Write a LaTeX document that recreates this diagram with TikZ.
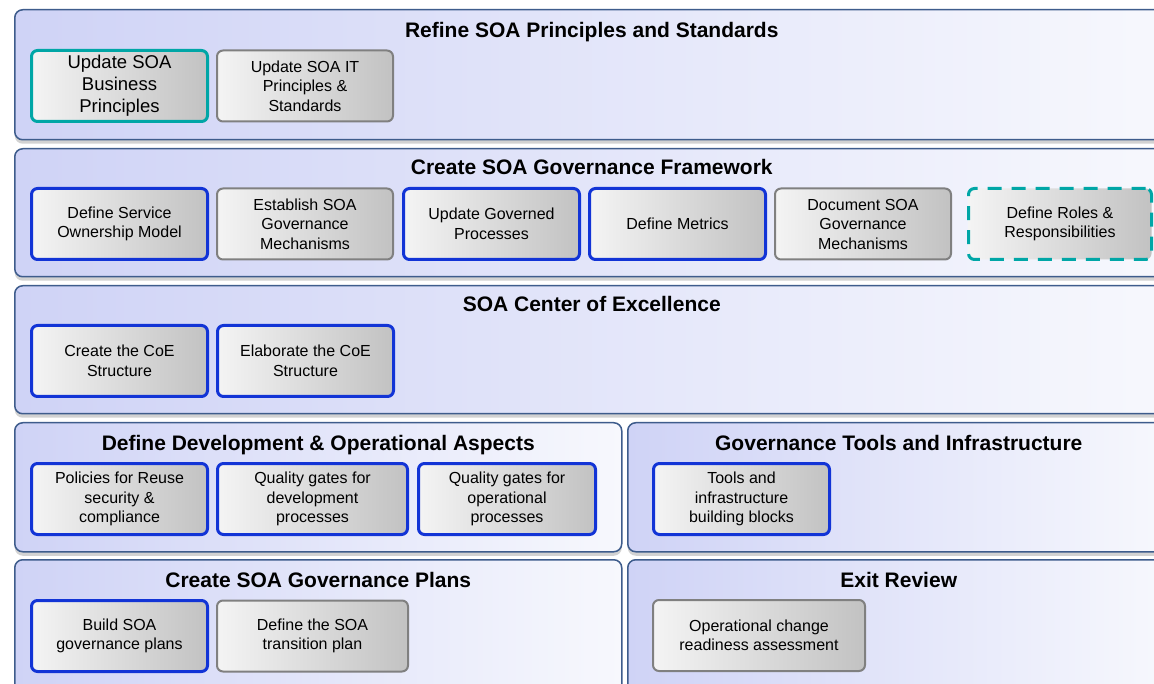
\documentclass[tikz,border=0pt]{standalone}
\usepackage{fontspec}
\setmainfont{Liberation Sans}
\usepackage{xcolor}
\usetikzlibrary{positioning, shadows}
\definecolor{panelline}{RGB}{62,92,140}
\definecolor{panelleft}{RGB}{207,211,246}
\definecolor{panelright}{RGB}{247,248,253}
\definecolor{boxleft}{RGB}{244,244,244}
\definecolor{boxright}{RGB}{194,194,194}
\definecolor{boxgray}{RGB}{128,128,128}
\definecolor{ownblue}{RGB}{18,52,214}
\definecolor{keyteal}{RGB}{0,166,166}
\tikzset{
	panel/.style={rectangle, rounded corners=8pt, draw=panelline, line width=1.5pt,
		left color=panelleft, right color=panelright, anchor=north west, inner sep=0pt,
		drop shadow={shadow xshift=0pt, shadow yshift=-4pt, opacity=.35}},
	ptitle/.style={anchor=base, font=\fontsize{21}{25}\selectfont\bfseries},
	task/.style={rectangle, rounded corners=6pt, left color=boxleft, right color=boxright,
		align=center, minimum width=176pt, minimum height=71pt, inner sep=0pt,
		font=\fontsize{16}{19.5}\selectfont},
	plain/.style={task, draw=boxgray, line width=2pt},
	owned/.style={task, draw=ownblue, line width=3pt},
	lead/.style={task, draw=keyteal, line width=3pt},
	leaddash/.style={lead, dash pattern=on 14pt off 10pt}
}

\begin{document}
\begin{tikzpicture}[x=1pt, y=-1pt, node distance=7pt]
	\clip (0,0) rectangle (1154,684);
	\fill[white] (0,0) rectangle (1154,684);

	% panels
	\node[panel, minimum width=1154pt, minimum height=130pt] (refine) at (14,9) {};
	\node[panel, minimum width=1154pt, minimum height=128pt] (framework) at (14,148) {};
	\node[panel, minimum width=1154pt, minimum height=128pt] (coe) at (14,285) {};
	\node[panel, minimum width=607pt, minimum height=129pt] (devops) at (14,422) {};
	\node[panel, minimum width=542pt, minimum height=129pt] (tools) at (627,422) {};
	\node[panel, minimum width=607pt, minimum height=140pt] (plans) at (14,559) {};
	\node[panel, minimum width=542pt, minimum height=140pt] (exitrev) at (627,559) {};

	\node[ptitle] (refinetitle) at ([yshift=-29pt]refine.north) {Refine SOA Principles and Standards};
	\node[ptitle] (frametitle) at ([yshift=-27pt]framework.north) {Create SOA Governance Framework};
	\node[ptitle] (coetitle) at ([yshift=-27pt]coe.north) {SOA Center of Excellence};
	\node[ptitle] (devopstitle) at ([yshift=-28pt]devops.north) {Define Development \& Operational Aspects};
	\node[ptitle] (toolstitle) at ([yshift=-28pt]tools.north) {Governance Tools and Infrastructure};
	\node[ptitle] (planstitle) at ([yshift=-28pt]plans.north) {Create SOA Governance Plans};
	\node[ptitle] (exittitle) at ([yshift=-28pt]exitrev.north) {Exit Review};

	% Refine SOA Principles and Standards
	\node[lead, anchor=north west, font=\fontsize{18.5}{22}\selectfont] (bizprin) at (30,49)
		{Update SOA\\Business\\Principles};
	\node[plain, right=of bizprin] (itprin) {Update SOA IT\\Principles \&\\Standards};

	% Create SOA Governance Framework
	\node[owned, anchor=north west] (ownmodel) at (30,187) {Define Service\\Ownership Model};
	\node[plain, right=of ownmodel] (mechs) {Establish SOA\\Governance\\Mechanisms};
	\node[owned, right=8pt of mechs] (govproc) {Update Governed\\Processes};
	\node[owned, right=of govproc] (metrics) {Define Metrics};
	\node[plain, right=of metrics] (docmechs) {Document SOA\\Governance\\Mechanisms};
	\node[leaddash, right=15pt of docmechs, minimum width=183pt] (roles) {Define Roles \&\\Responsibilities};

	% SOA Center of Excellence
	\node[owned, anchor=north west] (coecreate) at (30,324) {Create the CoE\\Structure};
	\node[owned, right=of coecreate] (coeelab) {Elaborate the CoE\\Structure};

	% Define Development & Operational Aspects
	\node[owned, anchor=north west] (reuse) at (30,462) {Policies for Reuse\\security \&\\compliance};
	\node[owned, right=of reuse, minimum width=190pt] (devgates) {Quality gates for\\development\\processes};
	\node[owned, right=8pt of devgates, minimum width=177pt] (opgates) {Quality gates for\\operational\\processes};

	% Governance Tools and Infrastructure
	\node[owned, anchor=north west] (blocks) at (652,462) {Tools and\\infrastructure\\building blocks};

	% Create SOA Governance Plans
	\node[owned, anchor=north west] (govplans) at (30,599) {Build SOA\\governance plans};
	\node[plain, right=of govplans, minimum width=191pt] (transplan) {Define the SOA\\transition plan};

	% Exit Review
	\node[plain, anchor=north west, minimum width=212pt] (readiness) at (652,599)
		{Operational change\\readiness assessment};
\end{tikzpicture}
\end{document}
